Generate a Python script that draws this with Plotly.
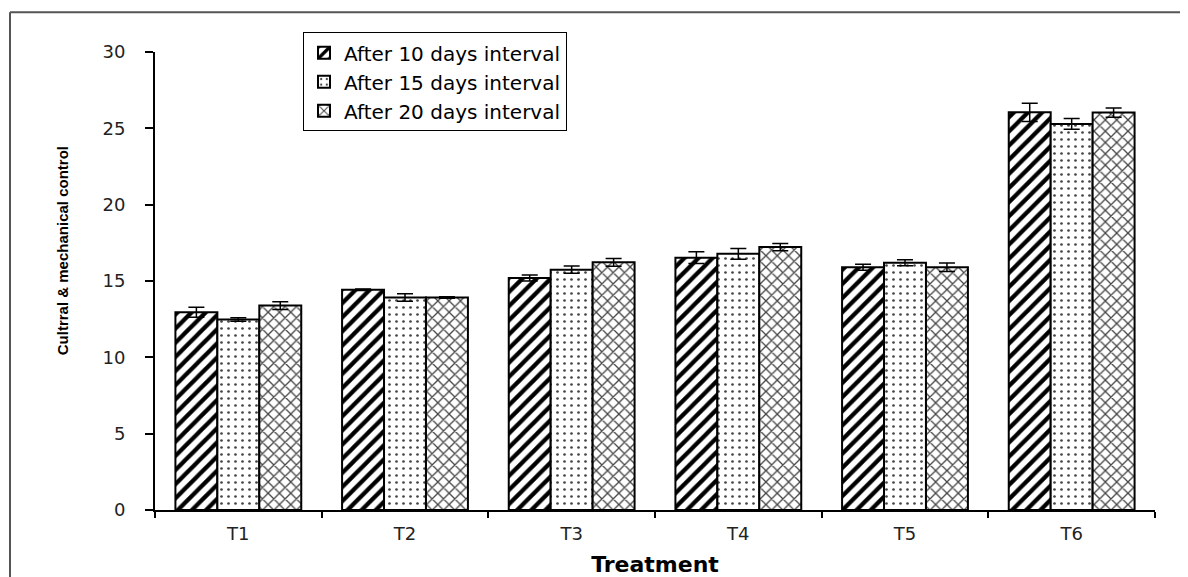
import plotly.graph_objects as go

categories = ["T1", "T2", "T3", "T4", "T5", "T6"]
series_names = ["After 10 days interval", "After 15 days interval", "After 20 days interval"]
vals_10 = [12.95, 14.42, 15.2, 16.53, 15.9, 26.05]
vals_15 = [12.48, 13.92, 15.74, 16.78, 16.2, 25.29]
vals_20 = [13.39, 13.92, 16.22, 17.22, 15.9, 26.03]
err_10 = [0.33, 0.05, 0.2, 0.38, 0.2, 0.6]
err_15 = [0.12, 0.25, 0.24, 0.35, 0.2, 0.35]
err_20 = [0.25, 0.05, 0.26, 0.24, 0.28, 0.3]
y_ticks = [0, 5, 10, 15, 20, 25, 30]

patterns = [
    dict(shape="/", size=10, solidity=0.42, fgcolor="black", fgopacity=1, bgcolor="white", fillmode="overlay"),
    dict(shape=".", size=7, solidity=0.12, fgcolor="#444444", fgopacity=1, bgcolor="white", fillmode="overlay"),
    dict(shape="x", size=8, solidity=0.3, fgcolor="#444444", fgopacity=1, bgcolor="white", fillmode="overlay"),
]

fig = go.Figure()
for name, vals, errs, pat in zip(series_names, [vals_10, vals_15, vals_20],
                                  [err_10, err_15, err_20], patterns):
    fig.add_trace(go.Bar(
        x=categories, y=vals, name=name,
        marker=dict(color="white", pattern=pat, line=dict(color="black", width=2)),
        error_y=dict(type="data", array=errs, visible=True, color="black",
                     thickness=1.5, width=8),
    ))

fig.update_layout(
    width=1188, height=577,
    margin=dict(l=147, r=41, t=44, b=73),
    paper_bgcolor="white", plot_bgcolor="white",
    barmode="group", bargap=0.245, bargroupgap=0,
    font=dict(family="DejaVu Sans", color="black"),
    showlegend=True,
    legend=dict(
        x=0.148, y=1.043, xanchor="left", yanchor="top",
        bgcolor="white", bordercolor="black", borderwidth=1,
        font=dict(family="DejaVu Sans", size=20, color="black"),
        tracegroupgap=0, itemwidth=30,
    ),
    xaxis=dict(
        showline=True, linecolor="black", linewidth=2,
        ticks="outside", tickson="boundaries", ticklen=6, tickwidth=2, tickcolor="black",
        tickfont=dict(family="DejaVu Sans", size=18, color="#222222"),
        ticklabelstandoff=6,
        title=dict(text="Treatment", font=dict(family="DejaVu Sans", size=22, weight="bold", color="black"),
                   standoff=14),
        showgrid=False,
    ),
    yaxis=dict(
        range=[0, 30], tickvals=y_ticks,
        showline=True, linecolor="black", linewidth=2,
        ticks="outside", ticklen=8, tickwidth=2, tickcolor="black",
        tickfont=dict(family="DejaVu Sans", size=18, color="#222222"),
        ticklabelstandoff=16,
        showgrid=False, zeroline=False,
    ),
    annotations=[dict(
        text="Cultrral & mechanical control", textangle=-90,
        xref="paper", yref="paper", x=-0.093, y=0.565,
        xanchor="center", yanchor="middle", showarrow=False,
        font=dict(family="Liberation Sans Narrow, Liberation Sans", size=15, weight="bold", color="black"),
    )],
)

# outer frame (left and top border of the original figure)
fig.add_shape(type="line", xref="paper", yref="paper", x0=-0.145, x1=-0.145, y0=1.087, y1=-0.2,
              line=dict(color="#555555", width=2))
fig.add_shape(type="line", xref="paper", yref="paper", x0=-0.145, x1=1.1, y0=1.087, y1=1.087,
              line=dict(color="#555555", width=2))

fig.write_html("out.html")
